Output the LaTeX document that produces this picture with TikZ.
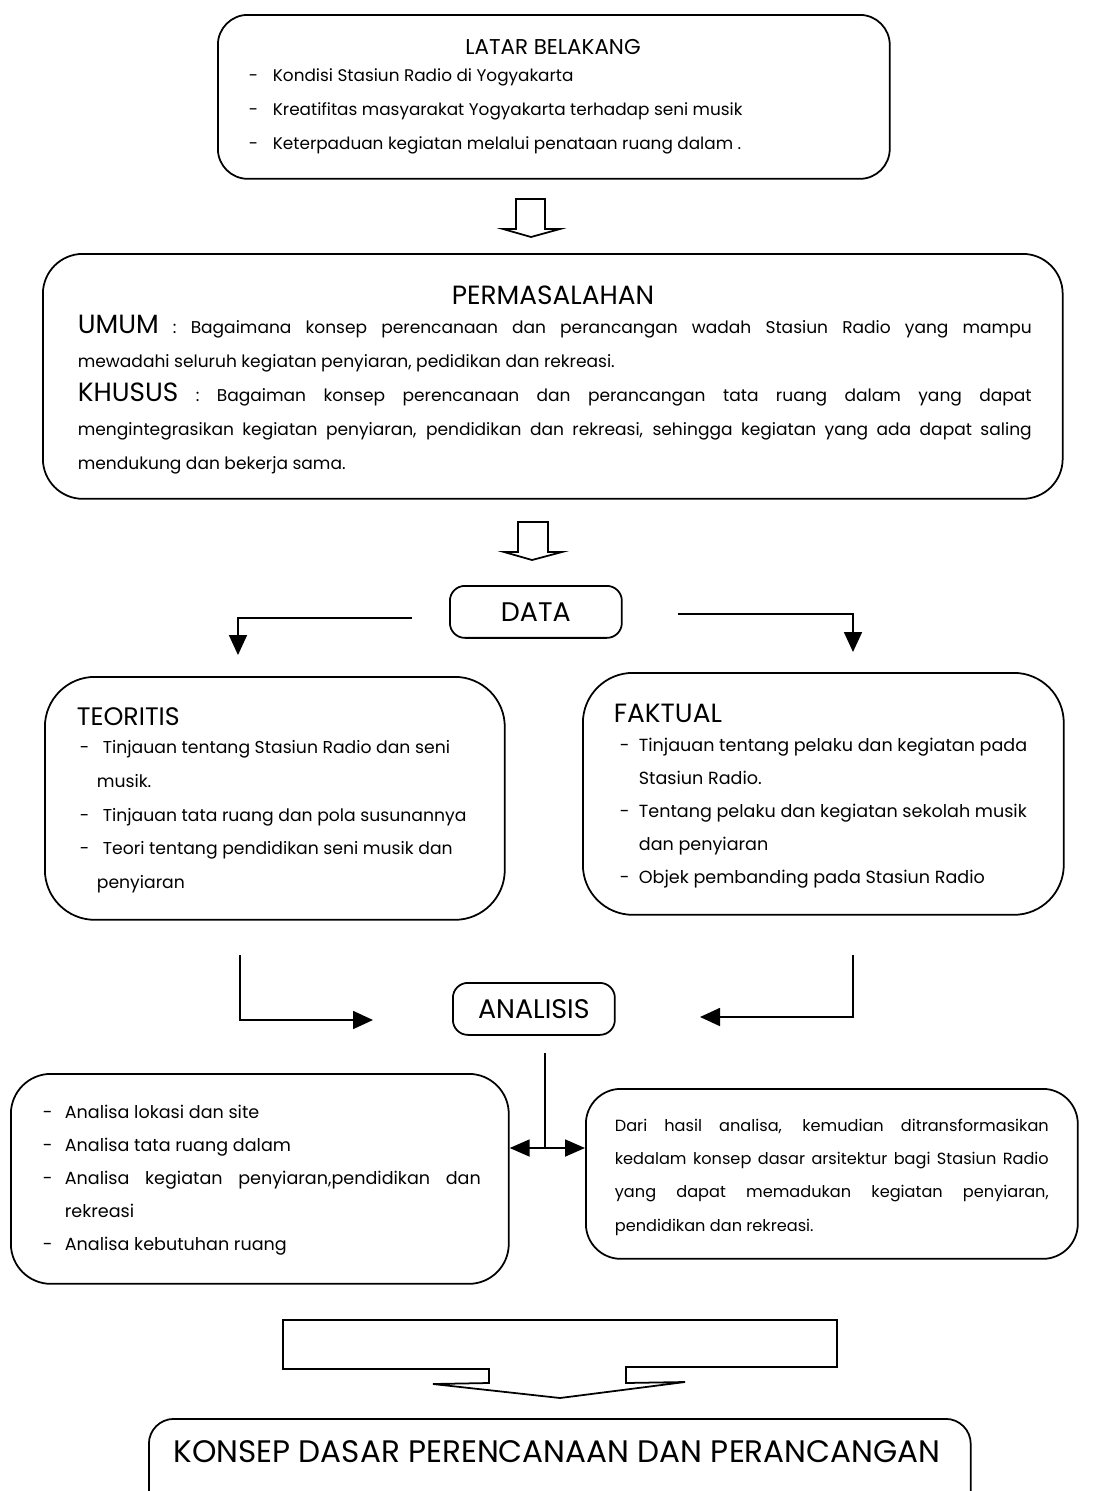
\documentclass[tikz,border=0pt]{standalone}
\usepackage{fontspec}
\setmainfont{Poppins}
\usetikzlibrary{calc, arrows.meta}

\newcommand\butir[1][0.46cm]{\makebox[#1][l]{-}}
\newcommand\besar[1]{{\fontsize{15}{17}\selectfont #1}}

\begin{document}
\begin{tikzpicture}[x=0.02cm, y=-0.02cm, line width=1pt,
		kotak/.style={draw, rounded corners=#1, anchor=north west, inner sep=0pt},
		judul/.style={anchor=base, inner sep=0pt},
		teks/.style={anchor=base west, inner sep=0pt, align=left},
		panah/.style={-{Triangle[length=0.4cm, width=0.36cm]}},
		dua/.style={{Triangle[length=0.4cm, width=0.34cm]}-{Triangle[length=0.4cm, width=0.34cm]}}]
		
		%page size in pixels of the reference
		\useasboundingbox (0,0) rectangle (1105,1491);
		\clip (0,0) rectangle (1105,1491);
		
		%text nodes are placed at the baseline of their last line
		
		%latar belakang
		\node [kotak=0.6cm, minimum width=13.44cm, minimum height=3.28cm] (latar) at (217,14) {};
		\node [judul, font=\fontsize{12.2}{14}\selectfont] (latarJ) at (553,54) {LATAR BELAKANG};
		\node [teks, font=\fontsize{9.6}{19.35}\selectfont] (latarI) at (248,149) {\butir[0.48cm]Kondisi Stasiun Radio di Yogyakarta\\ \butir[0.48cm]Kreatifitas masyarakat Yogyakarta terhadap seni musik\\ \butir[0.48cm]Keterpaduan kegiatan melalui penataan ruang dalam .};
		
		\draw (516,199) -- (545,199) -- (545,229) -- (560,229) -- (531,237) -- (503,229) -- (516,229) -- cycle;
		
		%permasalahan
		\node [kotak=0.8cm, minimum width=20.4cm, minimum height=4.9cm] (masalah) at (42,253) {};
		\node [judul, font=\fontsize{15}{17}\selectfont] (masalahJ) at (553,304) {PERMASALAHAN};
		\node [teks, font=\fontsize{9.7}{19.35}\selectfont] (masalahI) at (77,469) {\makebox[19.08cm][s]{\besar{UMUM} : Bagaimana konsep perencanaan dan perancangan wadah Stasiun Radio yang mampu}\\ mewadahi seluruh kegiatan penyiaran, pedidikan dan rekreasi.\\ \makebox[19.08cm][s]{\besar{KHUSUS} : Bagaiman konsep perencanaan dan perancangan tata ruang dalam yang dapat}\\ \makebox[19.08cm][s]{mengintegrasikan kegiatan penyiaran, pendidikan dan rekreasi, sehingga kegiatan yang ada dapat saling}\\ mendukung dan bekerja sama.};
		
		\draw (518,522) -- (548,522) -- (548,552) -- (562,552) -- (532,560) -- (504,552) -- (518,552) -- cycle;
		
		%data
		\node [kotak=0.3cm, minimum width=3.44cm, minimum height=1.04cm, font=\fontsize{15.3}{17}\selectfont] (data) at (449,585) {DATA};
		
		\coordinate (dataKiri) at (412,618);
		\coordinate (teoriAtas) at (238,655);
		\coordinate (dataKanan) at (678,614);
		\coordinate (faktualAtas) at (853,652);
		\draw [panah] (dataKiri) -| (teoriAtas);
		\draw [panah] (dataKanan) -| (faktualAtas);
		
		%teoritis
		\node [kotak=1cm, minimum width=9.2cm, minimum height=4.86cm] (teori) at (44,676) {};
		\node [teks, font=\fontsize{14.4}{16}\selectfont] (teoriJ) at (76,725) {TEORITIS};
		\node [teks, font=\fontsize{9.8}{19.07}\selectfont] (teoriI) at (79,888) {\butir Tinjauan tentang Stasiun Radio dan seni\\ \hspace*{0.34cm}musik.\\ \butir Tinjauan tata ruang dan pola susunannya\\ \butir Teori tentang pendidikan seni musik dan\\ \hspace*{0.34cm}penyiaran};
		
		%faktual
		\node [kotak=1cm, minimum width=9.62cm, minimum height=4.84cm] (faktual) at (582,672) {};
		\node [teks, font=\fontsize{15}{17}\selectfont] (faktualJ) at (613,722) {FAKTUAL};
		\node [teks, font=\fontsize{10}{18.78}\selectfont] (faktualI) at (619,883) {\butir[0.38cm]Tinjauan tentang pelaku dan kegiatan pada\\ \hspace*{0.38cm}Stasiun Radio.\\ \butir[0.38cm]Tentang pelaku dan kegiatan sekolah musik\\ \hspace*{0.38cm}dan penyiaran\\ \butir[0.38cm]Objek pembanding pada Stasiun Radio};
		
		%analisis
		\node [kotak=0.3cm, minimum width=3.24cm, minimum height=1.04cm, font=\fontsize{15.3}{17}\selectfont] (analisis) at (452,982) {ANALISIS};
		
		\coordinate (teoriBawah) at (240,955);
		\coordinate (analisisKiri) at (373,1020);
		\coordinate (faktualBawah) at (853,955);
		\coordinate (analisisKanan) at (700,1017);
		\draw [panah] (teoriBawah) |- (analisisKiri);
		\draw [panah] (faktualBawah) |- (analisisKanan);
		
		\coordinate (analisisBawah) at (545,1053);
		\coordinate (cabang) at (545,1148);
		\draw (analisisBawah) -- (cabang);
		
		%hasil analisa
		\node [kotak=0.8cm, minimum width=9.96cm, minimum height=4.2cm] (analisa) at (10,1073) {};
		\node [teks, font=\fontsize{10}{18.78}\selectfont] (analisaI) at (42,1250) {\butir[0.44cm]Analisa lokasi dan site\\ \butir[0.44cm]Analisa tata ruang dalam\\ \butir[0.44cm]\makebox[8.32cm][s]{Analisa kegiatan penyiaran,pendidikan dan}\\ \hspace*{0.44cm}rekreasi\\ \butir[0.44cm]Analisa kebutuhan ruang};
		
		\node [kotak=0.7cm, minimum width=9.84cm, minimum height=3.4cm] (hasil) at (585,1088) {};
		\node [teks, font=\fontsize{9.2}{18.95}\selectfont] (hasilI) at (614,1231) {\makebox[8.68cm][s]{Dari hasil analisa, kemudian ditransformasikan}\\ \makebox[8.68cm][s]{kedalam konsep dasar arsitektur bagi Stasiun Radio}\\ \makebox[8.68cm][s]{yang dapat memadukan kegiatan penyiaran,}\\ pendidikan dan rekreasi.};
		
		\draw [dua] (analisa.east |- cabang) -- (hasil.west |- cabang);
		
		%panah besar ke konsep
		\draw (283,1320) -- (837,1320) -- (837,1367) -- (626,1367) -- (626,1383) -- (685,1382) -- (560,1398) -- (433,1384) -- (489,1383) -- (489,1369) -- (283,1369) -- cycle;
		
		%konsep
		\node [kotak=0.5cm, minimum width=16.44cm, minimum height=2cm] (konsep) at (148,1418) {};
		\node [judul, font=\fontsize{17.7}{20}\selectfont] (konsepJ) at (557,1462) {KONSEP DASAR PERENCANAAN DAN PERANCANGAN};
	\end{tikzpicture}
\end{document}
